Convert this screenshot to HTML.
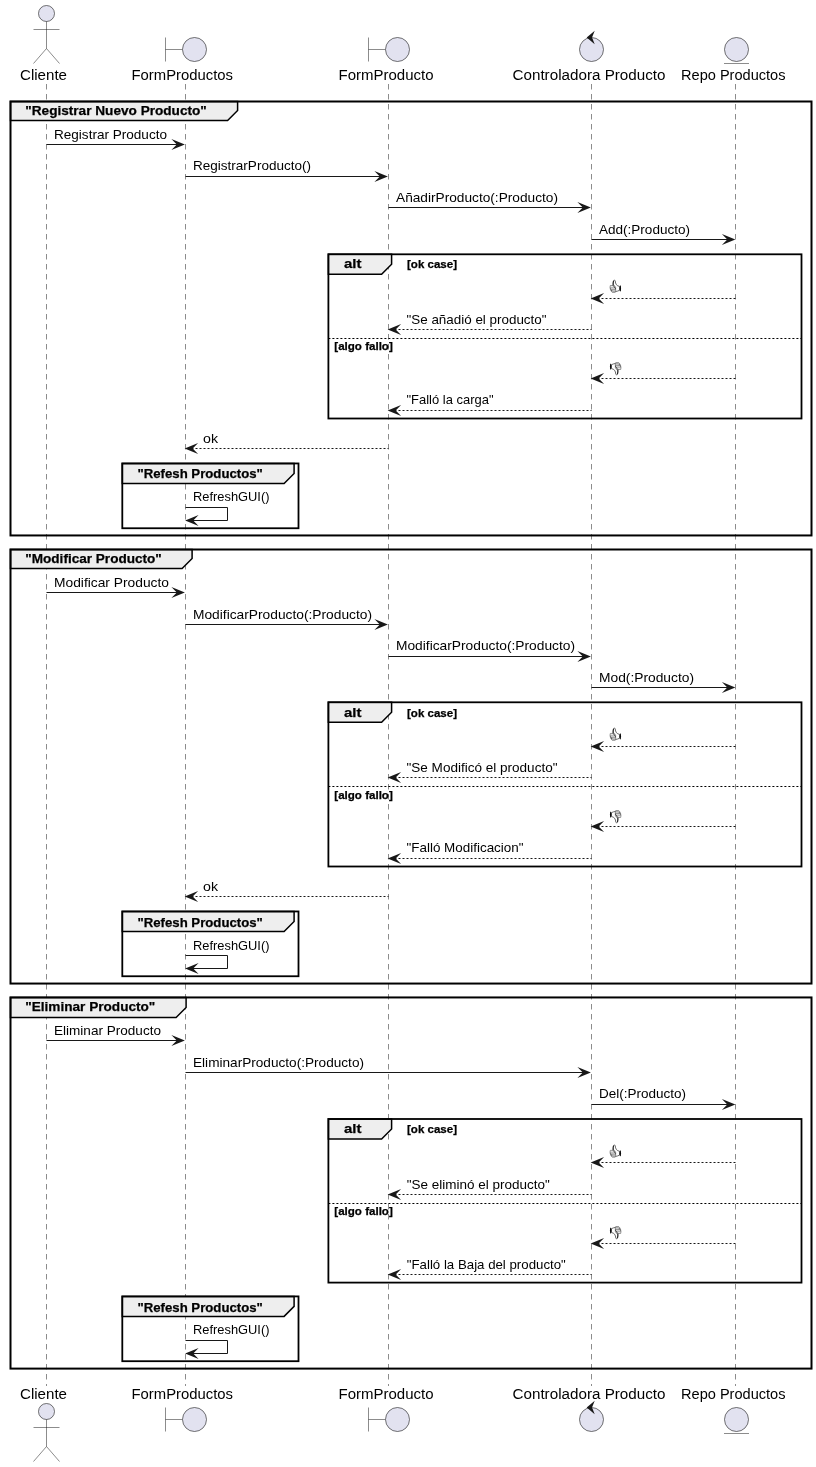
<!DOCTYPE html>
<html><head><meta charset="utf-8"><title>Diagram</title>
<style>html,body{margin:0;padding:0;background:#fff;}svg{display:block;will-change:transform;}</style>
</head><body>
<svg width="816" height="1467" viewBox="0 0 816 1467">
<rect width="816" height="1467" fill="#fff"/>
<line x1="46.5" y1="84" x2="46.5" y2="1386" stroke="#181818" stroke-width="0.5" stroke-dasharray="5.5,4.5"/>
<line x1="185.5" y1="84" x2="185.5" y2="1386" stroke="#181818" stroke-width="0.5" stroke-dasharray="5.5,4.5"/>
<line x1="388.5" y1="84" x2="388.5" y2="1386" stroke="#181818" stroke-width="0.5" stroke-dasharray="5.5,4.5"/>
<line x1="591.5" y1="84" x2="591.5" y2="1386" stroke="#181818" stroke-width="0.5" stroke-dasharray="5.5,4.5"/>
<line x1="735.5" y1="84" x2="735.5" y2="1386" stroke="#181818" stroke-width="0.5" stroke-dasharray="5.5,4.5"/>
<text x="20" y="79.5" font-size="14" font-family="Liberation Sans, sans-serif" fill="#000" textLength="47" lengthAdjust="spacingAndGlyphs">Cliente</text>
<text x="131.5" y="79.5" font-size="14" font-family="Liberation Sans, sans-serif" fill="#000" textLength="101.5" lengthAdjust="spacingAndGlyphs">FormProductos</text>
<text x="338.5" y="79.5" font-size="14" font-family="Liberation Sans, sans-serif" fill="#000" textLength="95" lengthAdjust="spacingAndGlyphs">FormProducto</text>
<text x="512.5" y="79.5" font-size="14" font-family="Liberation Sans, sans-serif" fill="#000" textLength="153" lengthAdjust="spacingAndGlyphs">Controladora Producto</text>
<text x="681" y="79.5" font-size="14" font-family="Liberation Sans, sans-serif" fill="#000" textLength="104.5" lengthAdjust="spacingAndGlyphs">Repo Productos</text>
<circle cx="46.5" cy="13.5" r="8" fill="#E2E2F0" stroke="#181818" stroke-width="0.6"/>
<path d="M46.5,21.5 L46.5,48.5 M33.5,29.5 L59.5,29.5 M46.5,48.5 L33.5,63.5 M46.5,48.5 L59.5,63.5" fill="none" stroke="#181818" stroke-width="0.5"/>
<path d="M165.5,37.5 L165.5,61.5 M165.5,49.5 L182.5,49.5" fill="none" stroke="#181818" stroke-width="0.5"/>
<circle cx="194.5" cy="49.5" r="12" fill="#E2E2F0" stroke="#181818" stroke-width="0.6"/>
<path d="M368.5,37.5 L368.5,61.5 M368.5,49.5 L385.5,49.5" fill="none" stroke="#181818" stroke-width="0.5"/>
<circle cx="397.5" cy="49.5" r="12" fill="#E2E2F0" stroke="#181818" stroke-width="0.6"/>
<circle cx="591.5" cy="49.5" r="12" fill="#E2E2F0" stroke="#181818" stroke-width="0.6"/>
<polygon points="586.72,37.5 594.7,30.85 592.04,37.5 594.7,44.15" fill="#181818"/>
<circle cx="736.5" cy="49.5" r="12" fill="#E2E2F0" stroke="#181818" stroke-width="0.6"/>
<line x1="724.0" y1="63.5" x2="749.0" y2="63.5" stroke="#181818" stroke-width="0.5"/>
<text x="20" y="1398.5" font-size="14" font-family="Liberation Sans, sans-serif" fill="#000" textLength="47" lengthAdjust="spacingAndGlyphs">Cliente</text>
<text x="131.5" y="1398.5" font-size="14" font-family="Liberation Sans, sans-serif" fill="#000" textLength="101.5" lengthAdjust="spacingAndGlyphs">FormProductos</text>
<text x="338.5" y="1398.5" font-size="14" font-family="Liberation Sans, sans-serif" fill="#000" textLength="95" lengthAdjust="spacingAndGlyphs">FormProducto</text>
<text x="512.5" y="1398.5" font-size="14" font-family="Liberation Sans, sans-serif" fill="#000" textLength="153" lengthAdjust="spacingAndGlyphs">Controladora Producto</text>
<text x="681" y="1398.5" font-size="14" font-family="Liberation Sans, sans-serif" fill="#000" textLength="104.5" lengthAdjust="spacingAndGlyphs">Repo Productos</text>
<circle cx="46.5" cy="1411.5" r="8" fill="#E2E2F0" stroke="#181818" stroke-width="0.6"/>
<path d="M46.5,1419.5 L46.5,1446.5 M33.5,1427.5 L59.5,1427.5 M46.5,1446.5 L33.5,1461.5 M46.5,1446.5 L59.5,1461.5" fill="none" stroke="#181818" stroke-width="0.5"/>
<path d="M165.5,1407.5 L165.5,1431.5 M165.5,1419.5 L182.5,1419.5" fill="none" stroke="#181818" stroke-width="0.5"/>
<circle cx="194.5" cy="1419.5" r="12" fill="#E2E2F0" stroke="#181818" stroke-width="0.6"/>
<path d="M368.5,1407.5 L368.5,1431.5 M368.5,1419.5 L385.5,1419.5" fill="none" stroke="#181818" stroke-width="0.5"/>
<circle cx="397.5" cy="1419.5" r="12" fill="#E2E2F0" stroke="#181818" stroke-width="0.6"/>
<circle cx="591.5" cy="1419.5" r="12" fill="#E2E2F0" stroke="#181818" stroke-width="0.6"/>
<polygon points="586.72,1407.5 594.7,1400.85 592.04,1407.5 594.7,1414.15" fill="#181818"/>
<circle cx="736.5" cy="1419.5" r="12" fill="#E2E2F0" stroke="#181818" stroke-width="0.6"/>
<line x1="724.0" y1="1433.5" x2="749.0" y2="1433.5" stroke="#181818" stroke-width="0.5"/>
<path d="M10.5,101.5 L237.6,101.5 L237.6,110.5 L227.6,120.5 L10.5,120.5 Z" fill="#EEEEEE" stroke="#000" stroke-width="1.5"/>
<rect x="10.5" y="101.5" width="801" height="433.95000000000005" fill="none" stroke="#000" stroke-width="2.0"/>
<text x="25.3" y="115" font-size="13" font-family="Liberation Sans, sans-serif" fill="#000" font-weight="bold" stroke="#000" stroke-width="0.25" textLength="181.5" lengthAdjust="spacingAndGlyphs">&quot;Registrar Nuevo Producto&quot;</text>
<text x="54" y="139" font-size="13" font-family="Liberation Sans, sans-serif" fill="#000" textLength="113" lengthAdjust="spacingAndGlyphs">Registrar Producto</text>
<polygon points="171.4,139.1 184.85,144.5 171.4,149.9 176.8,144.5" fill="#181818"/>
<line x1="46.5" y1="144.5" x2="179.5" y2="144.5" stroke="#181818" stroke-width="1"/>
<text x="193" y="170" font-size="13" font-family="Liberation Sans, sans-serif" fill="#000" textLength="118" lengthAdjust="spacingAndGlyphs">RegistrarProducto()</text>
<polygon points="374.4,171.1 387.85,176.5 374.4,181.9 379.8,176.5" fill="#181818"/>
<line x1="185.5" y1="176.5" x2="382.5" y2="176.5" stroke="#181818" stroke-width="1"/>
<text x="396" y="202" font-size="13" font-family="Liberation Sans, sans-serif" fill="#000" textLength="162" lengthAdjust="spacingAndGlyphs">AñadirProducto(:Producto)</text>
<polygon points="577.4,202.1 590.85,207.5 577.4,212.9 582.8,207.5" fill="#181818"/>
<line x1="388.5" y1="207.5" x2="585.5" y2="207.5" stroke="#181818" stroke-width="1"/>
<text x="599" y="234" font-size="13" font-family="Liberation Sans, sans-serif" fill="#000" textLength="91" lengthAdjust="spacingAndGlyphs">Add(:Producto)</text>
<polygon points="721.9,234.1 735.35,239.5 721.9,244.9 727.3,239.5" fill="#181818"/>
<line x1="591.5" y1="239.5" x2="730" y2="239.5" stroke="#181818" stroke-width="1"/>
<path d="M328.4,254.3 L391.59999999999997,254.3 L391.59999999999997,264.3 L381.59999999999997,274.3 L328.4,274.3 Z" fill="#EEEEEE" stroke="#000" stroke-width="1.5"/>
<rect x="328.4" y="254.3" width="473.1" height="164.2" fill="none" stroke="#000" stroke-width="1.8"/>
<text x="344" y="268" font-size="13" font-family="Liberation Sans, sans-serif" fill="#000" font-weight="bold" stroke="#000" stroke-width="0.25" textLength="17.4" lengthAdjust="spacingAndGlyphs">alt</text>
<text x="407" y="268" font-size="11" font-family="Liberation Sans, sans-serif" fill="#000" font-weight="bold" stroke="#000" stroke-width="0.25" textLength="50" lengthAdjust="spacingAndGlyphs">[ok case]</text>
<line x1="328.4" y1="338.5" x2="801.5" y2="338.5" stroke="#000" stroke-width="1" stroke-dasharray="2,2"/>
<text x="334.3" y="350" font-size="11" font-family="Liberation Sans, sans-serif" fill="#000" font-weight="bold" stroke="#000" stroke-width="0.25" textLength="58.5" lengthAdjust="spacingAndGlyphs">[algo fallo]</text>
<g transform="translate(606.0,277.0)" stroke-linecap="round" stroke-linejoin="round"><path d="M7.1,8.6 C6.9,6.6 7.1,4.6 7.5,3.7 C7.9,3.0 8.9,3.0 9.2,3.8 C9.4,5.4 9.6,6.7 10.4,7.7 C11.2,8.6 12.2,9.2 13.5,9.4 L13.5,13.3 C12.3,13.8 11,14.4 9.6,14.6 L7.1,14.6 Z" fill="#fff" stroke="#3a3a3a" stroke-width="0.75"/><path d="M7.2,8.4 C7.1,6.8 7.2,5.2 7.5,4.2" fill="none" stroke="#222" stroke-width="1"/><path d="M4.7,8.5 L8.5,8.5 L9.6,10.4 L9.7,13.8 L9.2,15.3 L6.3,15.4 L5.0,14.0 L4.3,12.1 L4.1,10.5 Z" fill="#f0f0f0" stroke="#4a4a4a" stroke-width="0.55"/><path d="M4.3,10.35 L8.8,10.35" fill="none" stroke="#707070" stroke-width="0.5"/><path d="M4.7,12.2 L9.6,12.2" fill="none" stroke="#303030" stroke-width="0.6"/><path d="M5.8,13.9 L9.5,13.9" fill="none" stroke="#606060" stroke-width="0.5"/><path d="M6.6,14.7 L9.2,14.7" fill="none" stroke="#808080" stroke-width="0.5"/><circle cx="5.7" cy="13.2" r="0.55" fill="#222"/><circle cx="4.5" cy="11.3" r="0.4" fill="#333"/><path d="M7.7,9.1 L9.4,11.4" fill="none" stroke="#222" stroke-width="0.8"/><ellipse cx="14.35" cy="11.4" rx="0.7" ry="3.1" fill="#0a0a0a"/></g>
<polygon points="604.1,293.1 590.65,298.5 604.1,303.9 598.7,298.5" fill="#181818"/>
<line x1="593.5" y1="298.5" x2="735.5" y2="298.5" stroke="#181818" stroke-width="1" stroke-dasharray="2,2"/>
<text x="406.5" y="324" font-size="13" font-family="Liberation Sans, sans-serif" fill="#000" textLength="140" lengthAdjust="spacingAndGlyphs">&quot;Se añadió el producto&quot;</text>
<polygon points="401.1,324.1 387.65,329.5 401.1,334.9 395.7,329.5" fill="#181818"/>
<line x1="390.5" y1="329.5" x2="591.5" y2="329.5" stroke="#181818" stroke-width="1" stroke-dasharray="2,2"/>
<g transform="translate(606.0,359.1) rotate(180 9.5 9.45)" stroke-linecap="round" stroke-linejoin="round"><path d="M7.1,8.6 C6.9,6.6 7.1,4.6 7.5,3.7 C7.9,3.0 8.9,3.0 9.2,3.8 C9.4,5.4 9.6,6.7 10.4,7.7 C11.2,8.6 12.2,9.2 13.5,9.4 L13.5,13.3 C12.3,13.8 11,14.4 9.6,14.6 L7.1,14.6 Z" fill="#fff" stroke="#3a3a3a" stroke-width="0.75"/><path d="M7.2,8.4 C7.1,6.8 7.2,5.2 7.5,4.2" fill="none" stroke="#222" stroke-width="1"/><path d="M4.7,8.5 L8.5,8.5 L9.6,10.4 L9.7,13.8 L9.2,15.3 L6.3,15.4 L5.0,14.0 L4.3,12.1 L4.1,10.5 Z" fill="#f0f0f0" stroke="#4a4a4a" stroke-width="0.55"/><path d="M4.3,10.35 L8.8,10.35" fill="none" stroke="#707070" stroke-width="0.5"/><path d="M4.7,12.2 L9.6,12.2" fill="none" stroke="#303030" stroke-width="0.6"/><path d="M5.8,13.9 L9.5,13.9" fill="none" stroke="#606060" stroke-width="0.5"/><path d="M6.6,14.7 L9.2,14.7" fill="none" stroke="#808080" stroke-width="0.5"/><circle cx="5.7" cy="13.2" r="0.55" fill="#222"/><circle cx="4.5" cy="11.3" r="0.4" fill="#333"/><path d="M7.7,9.1 L9.4,11.4" fill="none" stroke="#222" stroke-width="0.8"/><ellipse cx="14.35" cy="11.4" rx="0.7" ry="3.1" fill="#0a0a0a"/></g>
<polygon points="604.1,373.1 590.65,378.5 604.1,383.9 598.7,378.5" fill="#181818"/>
<line x1="593.5" y1="378.5" x2="735.5" y2="378.5" stroke="#181818" stroke-width="1" stroke-dasharray="2,2"/>
<text x="406.5" y="404" font-size="13" font-family="Liberation Sans, sans-serif" fill="#000" textLength="87" lengthAdjust="spacingAndGlyphs">&quot;Falló la carga&quot;</text>
<polygon points="401.1,405.1 387.65,410.5 401.1,415.9 395.7,410.5" fill="#181818"/>
<line x1="390.5" y1="410.5" x2="591.5" y2="410.5" stroke="#181818" stroke-width="1" stroke-dasharray="2,2"/>
<text x="203" y="443" font-size="13" font-family="Liberation Sans, sans-serif" fill="#000" textLength="15" lengthAdjust="spacingAndGlyphs">ok</text>
<polygon points="198.1,443.1 184.65,448.5 198.1,453.9 192.7,448.5" fill="#181818"/>
<line x1="187.5" y1="448.5" x2="388.5" y2="448.5" stroke="#181818" stroke-width="1" stroke-dasharray="2,2"/>
<path d="M122.3,463.45 L294.1,463.45 L294.1,473.45 L284.1,483.45 L122.3,483.45 Z" fill="#EEEEEE" stroke="#000" stroke-width="1.5"/>
<rect x="122.3" y="463.45" width="176.2" height="64.8" fill="none" stroke="#000" stroke-width="1.8"/>
<text x="137.5" y="478" font-size="13" font-family="Liberation Sans, sans-serif" fill="#000" font-weight="bold" stroke="#000" stroke-width="0.25" textLength="125.3" lengthAdjust="spacingAndGlyphs">&quot;Refesh Productos&quot;</text>
<text x="193" y="501" font-size="13" font-family="Liberation Sans, sans-serif" fill="#000" textLength="76.5" lengthAdjust="spacingAndGlyphs">RefreshGUI()</text>
<path d="M185.5,507.5 L227.5,507.5 L227.5,520.5 L186.5,520.5" fill="none" stroke="#181818" stroke-width="1"/>
<polygon points="198.6,515.1 185.15,520.5 198.6,525.9 193.2,520.5" fill="#181818"/>
<path d="M10.5,549.5 L192.1,549.5 L192.1,558.5 L182.1,568.5 L10.5,568.5 Z" fill="#EEEEEE" stroke="#000" stroke-width="1.5"/>
<rect x="10.5" y="549.5" width="801" height="434.04999999999995" fill="none" stroke="#000" stroke-width="2.0"/>
<text x="25.3" y="563" font-size="13" font-family="Liberation Sans, sans-serif" fill="#000" font-weight="bold" stroke="#000" stroke-width="0.25" textLength="136.5" lengthAdjust="spacingAndGlyphs">&quot;Modificar Producto&quot;</text>
<text x="54" y="587" font-size="13" font-family="Liberation Sans, sans-serif" fill="#000" textLength="115" lengthAdjust="spacingAndGlyphs">Modificar Producto</text>
<polygon points="171.4,587.1 184.85,592.5 171.4,597.9 176.8,592.5" fill="#181818"/>
<line x1="46.5" y1="592.5" x2="179.5" y2="592.5" stroke="#181818" stroke-width="1"/>
<text x="193" y="619" font-size="13" font-family="Liberation Sans, sans-serif" fill="#000" textLength="179" lengthAdjust="spacingAndGlyphs">ModificarProducto(:Producto)</text>
<polygon points="374.4,619.1 387.85,624.5 374.4,629.9 379.8,624.5" fill="#181818"/>
<line x1="185.5" y1="624.5" x2="382.5" y2="624.5" stroke="#181818" stroke-width="1"/>
<text x="396" y="650" font-size="13" font-family="Liberation Sans, sans-serif" fill="#000" textLength="179" lengthAdjust="spacingAndGlyphs">ModificarProducto(:Producto)</text>
<polygon points="577.4,651.1 590.85,656.5 577.4,661.9 582.8,656.5" fill="#181818"/>
<line x1="388.5" y1="656.5" x2="585.5" y2="656.5" stroke="#181818" stroke-width="1"/>
<text x="599" y="682" font-size="13" font-family="Liberation Sans, sans-serif" fill="#000" textLength="95" lengthAdjust="spacingAndGlyphs">Mod(:Producto)</text>
<polygon points="721.9,682.1 735.35,687.5 721.9,692.9 727.3,687.5" fill="#181818"/>
<line x1="591.5" y1="687.5" x2="730" y2="687.5" stroke="#181818" stroke-width="1"/>
<path d="M328.4,702.3 L391.59999999999997,702.3 L391.59999999999997,712.3 L381.59999999999997,722.3 L328.4,722.3 Z" fill="#EEEEEE" stroke="#000" stroke-width="1.5"/>
<rect x="328.4" y="702.3" width="473.1" height="164.20000000000005" fill="none" stroke="#000" stroke-width="1.8"/>
<text x="344" y="717" font-size="13" font-family="Liberation Sans, sans-serif" fill="#000" font-weight="bold" stroke="#000" stroke-width="0.25" textLength="17.4" lengthAdjust="spacingAndGlyphs">alt</text>
<text x="407" y="717" font-size="11" font-family="Liberation Sans, sans-serif" fill="#000" font-weight="bold" stroke="#000" stroke-width="0.25" textLength="50" lengthAdjust="spacingAndGlyphs">[ok case]</text>
<line x1="328.4" y1="786.5" x2="801.5" y2="786.5" stroke="#000" stroke-width="1" stroke-dasharray="2,2"/>
<text x="334.3" y="799" font-size="11" font-family="Liberation Sans, sans-serif" fill="#000" font-weight="bold" stroke="#000" stroke-width="0.25" textLength="58.5" lengthAdjust="spacingAndGlyphs">[algo fallo]</text>
<g transform="translate(606.0,724.9499999999999)" stroke-linecap="round" stroke-linejoin="round"><path d="M7.1,8.6 C6.9,6.6 7.1,4.6 7.5,3.7 C7.9,3.0 8.9,3.0 9.2,3.8 C9.4,5.4 9.6,6.7 10.4,7.7 C11.2,8.6 12.2,9.2 13.5,9.4 L13.5,13.3 C12.3,13.8 11,14.4 9.6,14.6 L7.1,14.6 Z" fill="#fff" stroke="#3a3a3a" stroke-width="0.75"/><path d="M7.2,8.4 C7.1,6.8 7.2,5.2 7.5,4.2" fill="none" stroke="#222" stroke-width="1"/><path d="M4.7,8.5 L8.5,8.5 L9.6,10.4 L9.7,13.8 L9.2,15.3 L6.3,15.4 L5.0,14.0 L4.3,12.1 L4.1,10.5 Z" fill="#f0f0f0" stroke="#4a4a4a" stroke-width="0.55"/><path d="M4.3,10.35 L8.8,10.35" fill="none" stroke="#707070" stroke-width="0.5"/><path d="M4.7,12.2 L9.6,12.2" fill="none" stroke="#303030" stroke-width="0.6"/><path d="M5.8,13.9 L9.5,13.9" fill="none" stroke="#606060" stroke-width="0.5"/><path d="M6.6,14.7 L9.2,14.7" fill="none" stroke="#808080" stroke-width="0.5"/><circle cx="5.7" cy="13.2" r="0.55" fill="#222"/><circle cx="4.5" cy="11.3" r="0.4" fill="#333"/><path d="M7.7,9.1 L9.4,11.4" fill="none" stroke="#222" stroke-width="0.8"/><ellipse cx="14.35" cy="11.4" rx="0.7" ry="3.1" fill="#0a0a0a"/></g>
<polygon points="604.1,741.1 590.65,746.5 604.1,751.9 598.7,746.5" fill="#181818"/>
<line x1="593.5" y1="746.5" x2="735.5" y2="746.5" stroke="#181818" stroke-width="1" stroke-dasharray="2,2"/>
<text x="406.5" y="772" font-size="13" font-family="Liberation Sans, sans-serif" fill="#000" textLength="151" lengthAdjust="spacingAndGlyphs">&quot;Se Modificó el producto&quot;</text>
<polygon points="401.1,772.1 387.65,777.5 401.1,782.9 395.7,777.5" fill="#181818"/>
<line x1="390.5" y1="777.5" x2="591.5" y2="777.5" stroke="#181818" stroke-width="1" stroke-dasharray="2,2"/>
<g transform="translate(606.0,807.05) rotate(180 9.5 9.45)" stroke-linecap="round" stroke-linejoin="round"><path d="M7.1,8.6 C6.9,6.6 7.1,4.6 7.5,3.7 C7.9,3.0 8.9,3.0 9.2,3.8 C9.4,5.4 9.6,6.7 10.4,7.7 C11.2,8.6 12.2,9.2 13.5,9.4 L13.5,13.3 C12.3,13.8 11,14.4 9.6,14.6 L7.1,14.6 Z" fill="#fff" stroke="#3a3a3a" stroke-width="0.75"/><path d="M7.2,8.4 C7.1,6.8 7.2,5.2 7.5,4.2" fill="none" stroke="#222" stroke-width="1"/><path d="M4.7,8.5 L8.5,8.5 L9.6,10.4 L9.7,13.8 L9.2,15.3 L6.3,15.4 L5.0,14.0 L4.3,12.1 L4.1,10.5 Z" fill="#f0f0f0" stroke="#4a4a4a" stroke-width="0.55"/><path d="M4.3,10.35 L8.8,10.35" fill="none" stroke="#707070" stroke-width="0.5"/><path d="M4.7,12.2 L9.6,12.2" fill="none" stroke="#303030" stroke-width="0.6"/><path d="M5.8,13.9 L9.5,13.9" fill="none" stroke="#606060" stroke-width="0.5"/><path d="M6.6,14.7 L9.2,14.7" fill="none" stroke="#808080" stroke-width="0.5"/><circle cx="5.7" cy="13.2" r="0.55" fill="#222"/><circle cx="4.5" cy="11.3" r="0.4" fill="#333"/><path d="M7.7,9.1 L9.4,11.4" fill="none" stroke="#222" stroke-width="0.8"/><ellipse cx="14.35" cy="11.4" rx="0.7" ry="3.1" fill="#0a0a0a"/></g>
<polygon points="604.1,821.1 590.65,826.5 604.1,831.9 598.7,826.5" fill="#181818"/>
<line x1="593.5" y1="826.5" x2="735.5" y2="826.5" stroke="#181818" stroke-width="1" stroke-dasharray="2,2"/>
<text x="406.5" y="852" font-size="13" font-family="Liberation Sans, sans-serif" fill="#000" textLength="117" lengthAdjust="spacingAndGlyphs">&quot;Falló Modificacion&quot;</text>
<polygon points="401.1,853.1 387.65,858.5 401.1,863.9 395.7,858.5" fill="#181818"/>
<line x1="390.5" y1="858.5" x2="591.5" y2="858.5" stroke="#181818" stroke-width="1" stroke-dasharray="2,2"/>
<text x="203" y="891" font-size="13" font-family="Liberation Sans, sans-serif" fill="#000" textLength="15" lengthAdjust="spacingAndGlyphs">ok</text>
<polygon points="198.1,891.1 184.65,896.5 198.1,901.9 192.7,896.5" fill="#181818"/>
<line x1="187.5" y1="896.5" x2="388.5" y2="896.5" stroke="#181818" stroke-width="1" stroke-dasharray="2,2"/>
<path d="M122.3,911.45 L294.1,911.45 L294.1,921.45 L284.1,931.45 L122.3,931.45 Z" fill="#EEEEEE" stroke="#000" stroke-width="1.5"/>
<rect x="122.3" y="911.45" width="176.2" height="64.8" fill="none" stroke="#000" stroke-width="1.8"/>
<text x="137.5" y="927" font-size="13" font-family="Liberation Sans, sans-serif" fill="#000" font-weight="bold" stroke="#000" stroke-width="0.25" textLength="125.3" lengthAdjust="spacingAndGlyphs">&quot;Refesh Productos&quot;</text>
<text x="193" y="950" font-size="13" font-family="Liberation Sans, sans-serif" fill="#000" textLength="76.5" lengthAdjust="spacingAndGlyphs">RefreshGUI()</text>
<path d="M185.5,955.5 L227.5,955.5 L227.5,968.5 L186.5,968.5" fill="none" stroke="#181818" stroke-width="1"/>
<polygon points="198.6,963.1 185.15,968.5 198.6,973.9 193.2,968.5" fill="#181818"/>
<path d="M10.5,997.45 L186.1,997.45 L186.1,1007.45 L176.1,1017.45 L10.5,1017.45 Z" fill="#EEEEEE" stroke="#000" stroke-width="1.5"/>
<rect x="10.5" y="997.45" width="801" height="371.14999999999986" fill="none" stroke="#000" stroke-width="2.0"/>
<text x="25.3" y="1011" font-size="13" font-family="Liberation Sans, sans-serif" fill="#000" font-weight="bold" stroke="#000" stroke-width="0.25" textLength="130" lengthAdjust="spacingAndGlyphs">&quot;Eliminar Producto&quot;</text>
<text x="54" y="1035" font-size="13" font-family="Liberation Sans, sans-serif" fill="#000" textLength="107" lengthAdjust="spacingAndGlyphs">Eliminar Producto</text>
<polygon points="171.4,1035.1 184.85,1040.5 171.4,1045.9 176.8,1040.5" fill="#181818"/>
<line x1="46.5" y1="1040.5" x2="179.5" y2="1040.5" stroke="#181818" stroke-width="1"/>
<text x="193" y="1067" font-size="13" font-family="Liberation Sans, sans-serif" fill="#000" textLength="171" lengthAdjust="spacingAndGlyphs">EliminarProducto(:Producto)</text>
<polygon points="577.4,1067.1 590.85,1072.5 577.4,1077.9 582.8,1072.5" fill="#181818"/>
<line x1="185.5" y1="1072.5" x2="585.5" y2="1072.5" stroke="#181818" stroke-width="1"/>
<text x="599" y="1098" font-size="13" font-family="Liberation Sans, sans-serif" fill="#000" textLength="87" lengthAdjust="spacingAndGlyphs">Del(:Producto)</text>
<polygon points="721.9,1099.1 735.35,1104.5 721.9,1109.9 727.3,1104.5" fill="#181818"/>
<line x1="591.5" y1="1104.5" x2="730" y2="1104.5" stroke="#181818" stroke-width="1"/>
<path d="M328.4,1119.0 L391.59999999999997,1119.0 L391.59999999999997,1129.0 L381.59999999999997,1139.0 L328.4,1139.0 Z" fill="#EEEEEE" stroke="#000" stroke-width="1.5"/>
<rect x="328.4" y="1119.0" width="473.1" height="163.5999999999999" fill="none" stroke="#000" stroke-width="1.8"/>
<text x="344" y="1133" font-size="13" font-family="Liberation Sans, sans-serif" fill="#000" font-weight="bold" stroke="#000" stroke-width="0.25" textLength="17.4" lengthAdjust="spacingAndGlyphs">alt</text>
<text x="407" y="1133" font-size="11" font-family="Liberation Sans, sans-serif" fill="#000" font-weight="bold" stroke="#000" stroke-width="0.25" textLength="50" lengthAdjust="spacingAndGlyphs">[ok case]</text>
<line x1="328.4" y1="1203.5" x2="801.5" y2="1203.5" stroke="#000" stroke-width="1" stroke-dasharray="2,2"/>
<text x="334.3" y="1215" font-size="11" font-family="Liberation Sans, sans-serif" fill="#000" font-weight="bold" stroke="#000" stroke-width="0.25" textLength="58.5" lengthAdjust="spacingAndGlyphs">[algo fallo]</text>
<g transform="translate(606.0,1141.85)" stroke-linecap="round" stroke-linejoin="round"><path d="M7.1,8.6 C6.9,6.6 7.1,4.6 7.5,3.7 C7.9,3.0 8.9,3.0 9.2,3.8 C9.4,5.4 9.6,6.7 10.4,7.7 C11.2,8.6 12.2,9.2 13.5,9.4 L13.5,13.3 C12.3,13.8 11,14.4 9.6,14.6 L7.1,14.6 Z" fill="#fff" stroke="#3a3a3a" stroke-width="0.75"/><path d="M7.2,8.4 C7.1,6.8 7.2,5.2 7.5,4.2" fill="none" stroke="#222" stroke-width="1"/><path d="M4.7,8.5 L8.5,8.5 L9.6,10.4 L9.7,13.8 L9.2,15.3 L6.3,15.4 L5.0,14.0 L4.3,12.1 L4.1,10.5 Z" fill="#f0f0f0" stroke="#4a4a4a" stroke-width="0.55"/><path d="M4.3,10.35 L8.8,10.35" fill="none" stroke="#707070" stroke-width="0.5"/><path d="M4.7,12.2 L9.6,12.2" fill="none" stroke="#303030" stroke-width="0.6"/><path d="M5.8,13.9 L9.5,13.9" fill="none" stroke="#606060" stroke-width="0.5"/><path d="M6.6,14.7 L9.2,14.7" fill="none" stroke="#808080" stroke-width="0.5"/><circle cx="5.7" cy="13.2" r="0.55" fill="#222"/><circle cx="4.5" cy="11.3" r="0.4" fill="#333"/><path d="M7.7,9.1 L9.4,11.4" fill="none" stroke="#222" stroke-width="0.8"/><ellipse cx="14.35" cy="11.4" rx="0.7" ry="3.1" fill="#0a0a0a"/></g>
<polygon points="604.1,1157.1 590.65,1162.5 604.1,1167.9 598.7,1162.5" fill="#181818"/>
<line x1="593.5" y1="1162.5" x2="735.5" y2="1162.5" stroke="#181818" stroke-width="1" stroke-dasharray="2,2"/>
<text x="406.8" y="1189" font-size="13" font-family="Liberation Sans, sans-serif" fill="#000" textLength="143" lengthAdjust="spacingAndGlyphs">&quot;Se eliminó el producto&quot;</text>
<polygon points="401.1,1189.1 387.65,1194.5 401.1,1199.9 395.7,1194.5" fill="#181818"/>
<line x1="390.5" y1="1194.5" x2="591.5" y2="1194.5" stroke="#181818" stroke-width="1" stroke-dasharray="2,2"/>
<g transform="translate(606.0,1223.05) rotate(180 9.5 9.45)" stroke-linecap="round" stroke-linejoin="round"><path d="M7.1,8.6 C6.9,6.6 7.1,4.6 7.5,3.7 C7.9,3.0 8.9,3.0 9.2,3.8 C9.4,5.4 9.6,6.7 10.4,7.7 C11.2,8.6 12.2,9.2 13.5,9.4 L13.5,13.3 C12.3,13.8 11,14.4 9.6,14.6 L7.1,14.6 Z" fill="#fff" stroke="#3a3a3a" stroke-width="0.75"/><path d="M7.2,8.4 C7.1,6.8 7.2,5.2 7.5,4.2" fill="none" stroke="#222" stroke-width="1"/><path d="M4.7,8.5 L8.5,8.5 L9.6,10.4 L9.7,13.8 L9.2,15.3 L6.3,15.4 L5.0,14.0 L4.3,12.1 L4.1,10.5 Z" fill="#f0f0f0" stroke="#4a4a4a" stroke-width="0.55"/><path d="M4.3,10.35 L8.8,10.35" fill="none" stroke="#707070" stroke-width="0.5"/><path d="M4.7,12.2 L9.6,12.2" fill="none" stroke="#303030" stroke-width="0.6"/><path d="M5.8,13.9 L9.5,13.9" fill="none" stroke="#606060" stroke-width="0.5"/><path d="M6.6,14.7 L9.2,14.7" fill="none" stroke="#808080" stroke-width="0.5"/><circle cx="5.7" cy="13.2" r="0.55" fill="#222"/><circle cx="4.5" cy="11.3" r="0.4" fill="#333"/><path d="M7.7,9.1 L9.4,11.4" fill="none" stroke="#222" stroke-width="0.8"/><ellipse cx="14.35" cy="11.4" rx="0.7" ry="3.1" fill="#0a0a0a"/></g>
<polygon points="604.1,1238.1 590.65,1243.5 604.1,1248.9 598.7,1243.5" fill="#181818"/>
<line x1="593.5" y1="1243.5" x2="735.5" y2="1243.5" stroke="#181818" stroke-width="1" stroke-dasharray="2,2"/>
<text x="406.8" y="1269" font-size="13" font-family="Liberation Sans, sans-serif" fill="#000" textLength="159" lengthAdjust="spacingAndGlyphs">&quot;Falló la Baja del producto&quot;</text>
<polygon points="401.1,1269.1 387.65,1274.5 401.1,1279.9 395.7,1274.5" fill="#181818"/>
<line x1="390.5" y1="1274.5" x2="591.5" y2="1274.5" stroke="#181818" stroke-width="1" stroke-dasharray="2,2"/>
<path d="M122.3,1296.4 L294.1,1296.4 L294.1,1306.4 L284.1,1316.4 L122.3,1316.4 Z" fill="#EEEEEE" stroke="#000" stroke-width="1.5"/>
<rect x="122.3" y="1296.4" width="176.2" height="64.8" fill="none" stroke="#000" stroke-width="1.8"/>
<text x="137.5" y="1312" font-size="13" font-family="Liberation Sans, sans-serif" fill="#000" font-weight="bold" stroke="#000" stroke-width="0.25" textLength="125.3" lengthAdjust="spacingAndGlyphs">&quot;Refesh Productos&quot;</text>
<text x="193" y="1334" font-size="13" font-family="Liberation Sans, sans-serif" fill="#000" textLength="76.5" lengthAdjust="spacingAndGlyphs">RefreshGUI()</text>
<path d="M185.5,1340.5 L227.5,1340.5 L227.5,1353.5 L186.5,1353.5" fill="none" stroke="#181818" stroke-width="1"/>
<polygon points="198.6,1348.1 185.15,1353.5 198.6,1358.9 193.2,1353.5" fill="#181818"/>
</svg>
</body></html>
